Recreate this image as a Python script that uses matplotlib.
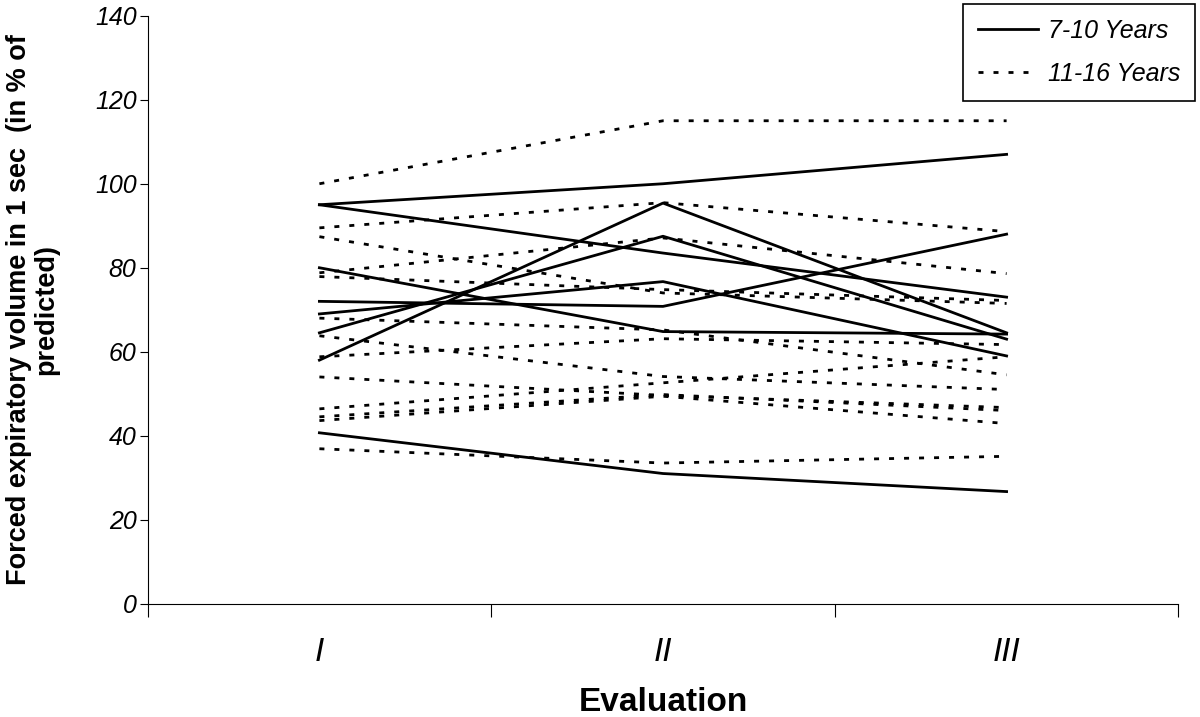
import matplotlib.pyplot as plt
from matplotlib.lines import Line2D

plt.rcParams['font.family'] = ['Liberation Sans', 'DejaVu Sans']

# evaluation points
evaluations = ['I', 'II', 'III']

# FEV1 (% of predicted), 7-10 year olds
young = [
    [95, 100, 107],
    [95, 83.5, 73],
    [80, 64.8, 64.2],
    [72, 70.8, 88],
    [69, 76.7, 59],
    [64.5, 87.5, 63],
    [58, 95.4, 64.5],
    [40.7, 31, 26.7],
]

# FEV1 (% of predicted), 11-16 year olds
older = [
    [100, 115, 115],
    [89.5, 95.5, 88.6],
    [87.4, 74, 71.5],
    [78.8, 87.1, 78.6],
    [77.9, 74.8, 72.2],
    [68, 65.2, 54.5],
    [63.8, 54.1, 51],
    [58.8, 63.1, 61.7],
    [54, 49.6, 46.7],
    [46.4, 52.6, 58.8],
    [44.5, 49.8, 46],
    [43.6, 49.4, 42.9],
    [36.9, 33.5, 35.1],
]

x = [1, 2, 3]
dots = (0, (1.8, 3.6))

fig = plt.figure(figsize=(12, 7.17), dpi=100)
ax = fig.add_axes([0.123, 0.158, 0.859, 0.82])

for row in older:
    ax.plot(x, row, color='black', lw=2, linestyle=dots)
for row in young:
    ax.plot(x, row, color='black', lw=2)

ax.set_xlim(0.5, 3.5)
ax.set_ylim(0, 140)
ax.spines['top'].set_visible(False)
ax.spines['right'].set_visible(False)

# boundaries get tick marks, category names sit in between
ax.set_xticks([0.5, 1.5, 2.5, 3.5])
ax.set_xticklabels([])
ax.set_xticks(x, minor=True)
ax.set_xticklabels(evaluations, minor=True, fontsize=24, style='italic')
ax.tick_params(axis='x', which='major', length=9, direction='out')
ax.tick_params(axis='x', which='minor', length=0, pad=24)

ax.set_yticks(range(0, 141, 20))
ax.set_yticklabels([str(v) for v in range(0, 141, 20)], fontsize=18, style='italic')
ax.tick_params(axis='y', length=6, pad=2)

ax.set_xlabel('Evaluation', fontsize=24, fontweight='bold', labelpad=14)
ax.set_ylabel('Forced expiratory volume in 1 sec  (in % of\npredicted)',
              fontsize=19.5, fontweight='bold', labelpad=26, linespacing=1.05)

handles = [Line2D([], [], color='black', lw=2),
           Line2D([], [], color='black', lw=2, linestyle=dots)]
leg = fig.legend(handles, ['7-10 Years', '11-16 Years'], loc='upper right',
                 bbox_to_anchor=(0.998, 0.998), borderaxespad=0.1,
                 fancybox=False, framealpha=1,
                 edgecolor='black', prop={'size': 18, 'style': 'italic'},
                 handlelength=2.4, labelspacing=0.75, borderpad=0.6,
                 handletextpad=0.4)
leg.get_frame().set_linewidth(1.2)

fig.savefig('out.png', dpi=100)
